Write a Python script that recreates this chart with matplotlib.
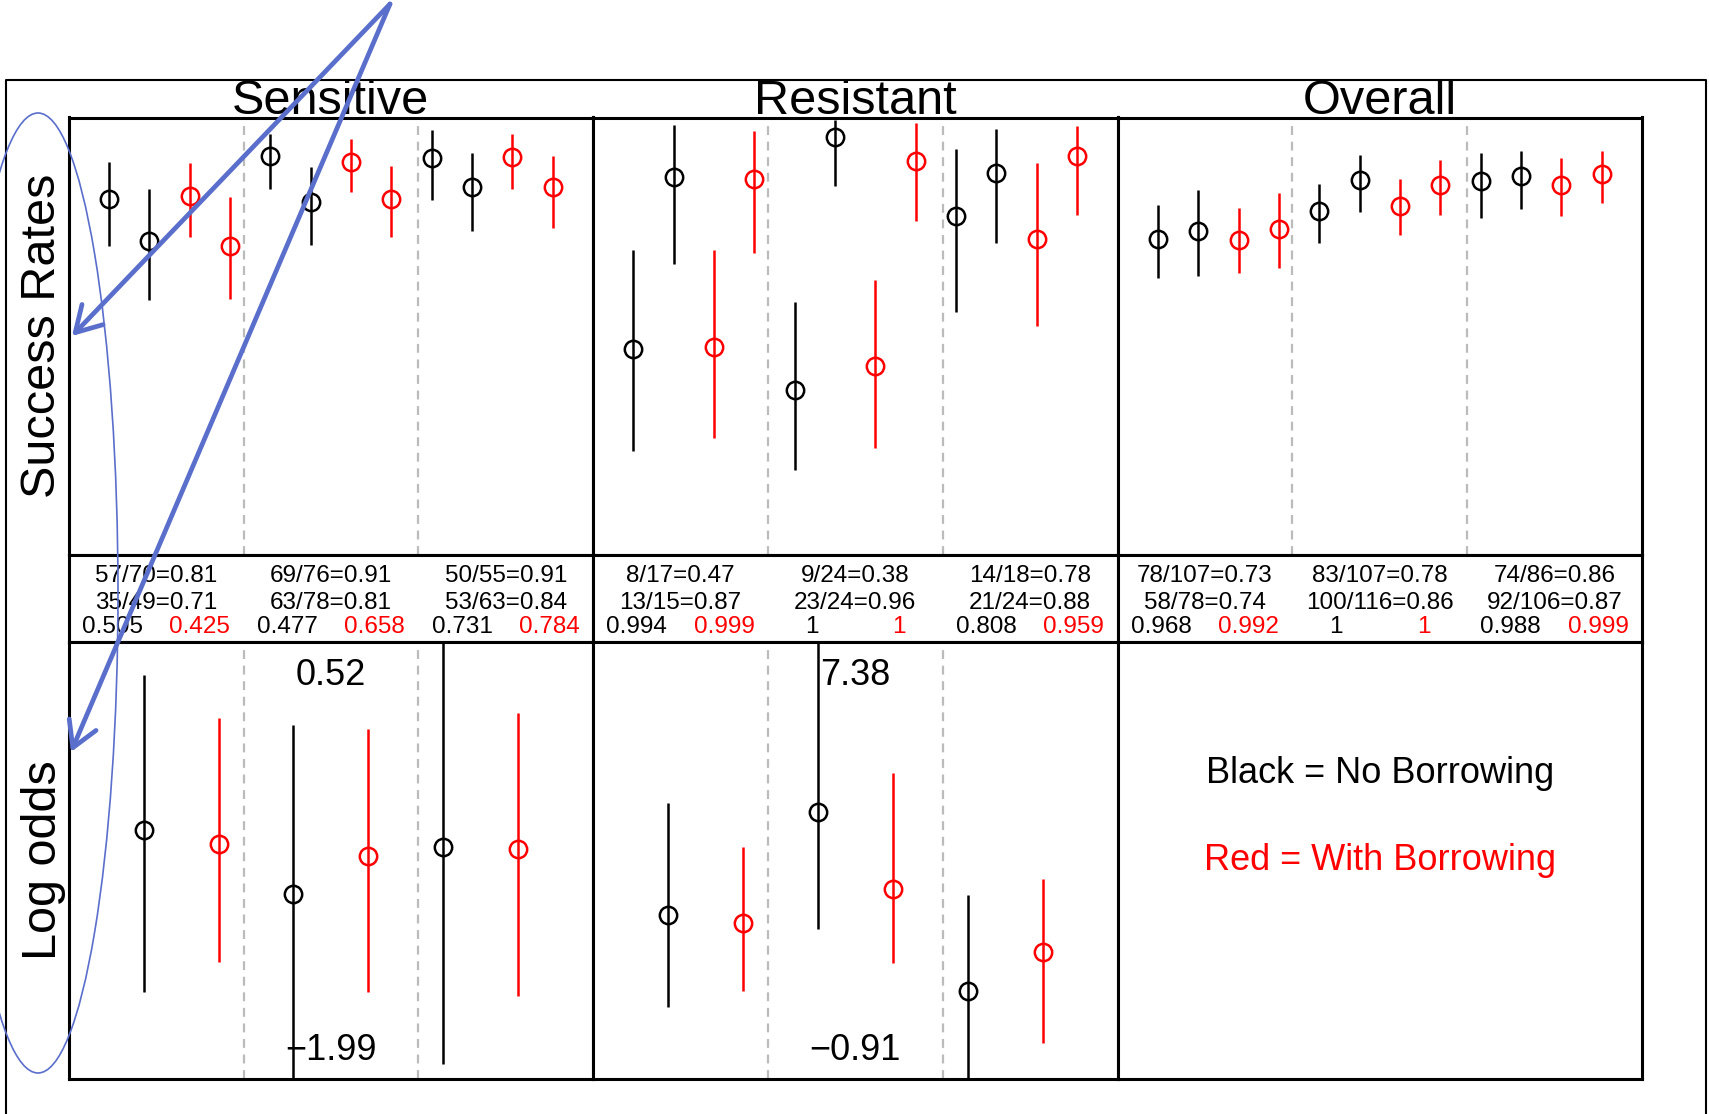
import matplotlib
matplotlib.use('Agg')
import matplotlib.pyplot as plt
from matplotlib.patches import Ellipse, FancyArrowPatch
from matplotlib.lines import Line2D

plt.rcParams['font.family'] = ['Liberation Sans', 'DejaVu Sans']

# ---- data ----
columns = ['Sensitive', 'Resistant', 'Overall']

# table counts: row 1 / row 2 of each block
succ_1 = {'Sensitive': [57, 69, 50], 'Resistant': [8, 9, 14], 'Overall': [78, 83, 74]}
total_1 = {'Sensitive': [70, 76, 55], 'Resistant': [17, 24, 18], 'Overall': [107, 107, 86]}
succ_2 = {'Sensitive': [35, 63, 53], 'Resistant': [13, 23, 21], 'Overall': [58, 100, 92]}
total_2 = {'Sensitive': [49, 78, 63], 'Resistant': [15, 24, 24], 'Overall': [78, 116, 106]}

# posterior probabilities printed in row 3
prob_black = {'Sensitive': [0.505, 0.477, 0.731], 'Resistant': [0.994, 1, 0.808], 'Overall': [0.968, 1, 0.988]}
prob_red = {'Sensitive': [0.425, 0.658, 0.784], 'Resistant': [0.999, 1, 0.959], 'Overall': [0.992, 1, 0.999]}

# success rates and intervals (order per block: arm 1, arm 2)
rate_black = {'Sensitive': [0.817, 0.720, 0.916, 0.811, 0.912, 0.845],
              'Resistant': [0.471, 0.868, 0.376, 0.961, 0.777, 0.877],
              'Overall': [0.724, 0.744, 0.788, 0.860, 0.858, 0.869]}
rate_black_lo = {'Sensitive': [0.709, 0.583, 0.839, 0.711, 0.814, 0.744],
                 'Resistant': [0.235, 0.667, 0.191, 0.846, 0.556, 0.716],
                 'Overall': [0.635, 0.640, 0.715, 0.787, 0.774, 0.794]}
rate_black_hi = {'Sensitive': [0.902, 0.840, 0.968, 0.891, 0.975, 0.924],
                 'Resistant': [0.698, 0.988, 0.580, 1.000, 0.933, 0.978],
                 'Overall': [0.804, 0.837, 0.852, 0.918, 0.924, 0.928]}
rate_red = {'Sensitive': [0.823, 0.709, 0.903, 0.818, 0.914, 0.844],
            'Resistant': [0.475, 0.864, 0.432, 0.904, 0.724, 0.916],
            'Overall': [0.723, 0.748, 0.801, 0.849, 0.849, 0.875]}
rate_red_lo = {'Sensitive': [0.730, 0.586, 0.832, 0.730, 0.839, 0.749],
               'Resistant': [0.264, 0.692, 0.243, 0.767, 0.523, 0.781],
               'Overall': [0.645, 0.657, 0.734, 0.780, 0.778, 0.808]}
rate_red_hi = {'Sensitive': [0.899, 0.822, 0.956, 0.893, 0.968, 0.917],
               'Resistant': [0.698, 0.973, 0.631, 0.993, 0.900, 0.985],
               'Overall': [0.796, 0.831, 0.862, 0.907, 0.912, 0.927]}

# log odds (no panel for Overall)
logodds_range = {'Sensitive': (-1.99, 0.52), 'Resistant': (-0.91, 7.38)}
lo_black = {'Sensitive': [-0.56, -0.93, -0.66], 'Resistant': [2.20, 4.15, 0.77]}
lo_black_lo = {'Sensitive': [-1.49, -2.30, -1.90], 'Resistant': [0.46, 1.93, -1.50]}
lo_black_hi = {'Sensitive': [0.33, 0.04, 0.80], 'Resistant': [4.32, 9.00, 2.58]}
lo_red = {'Sensitive': [-0.64, -0.71, -0.67], 'Resistant': [2.06, 2.70, 1.50]}
lo_red_lo = {'Sensitive': [-1.32, -1.49, -1.51], 'Resistant': [0.77, 1.29, -0.22]}
lo_red_hi = {'Sensitive': [0.085, 0.02, 0.11], 'Resistant': [3.50, 4.90, 2.88]}

# ---- layout ----
W, H = 1709, 1114
RED = '#ff0000'
BLUE = '#5a6ecb'
GREY = '#bbbbbb'
col_left = [68.7, 593.1, 1117.5]
col_w = 524.4
row_top, row_tab, row_bot, row_end = 117.5, 555.0, 641.7, 1079.3


def fx(px):
    return px / W


def fy(py):
    return 1 - py / H


def panel(fig, x0, y_top, y_bot):
    ax = fig.add_axes([fx(x0), fy(y_bot), col_w / W, (y_bot - y_top) / H])
    ax.set_xticks([])
    ax.set_yticks([])
    for sp in ax.spines.values():
        sp.set_linewidth(2.2)
    return ax


def draw_ci(ax, x, est, lo, hi, color):
    ax.vlines(x, lo, hi, color=color, lw=1.8, zorder=3)
    ax.plot(x, est, 'o', ms=12.5, mfc='none', mec=color, mew=1.8, zorder=4)


def dividers(ax, positions):
    for d in positions:
        ax.axvline(d, color=GREY, lw=1.6, ls=(0, (4, 3)), zorder=1)


fig = plt.figure(figsize=(W / 100, H / 100), dpi=100)

for c, name in enumerate(columns):
    x0 = col_left[c]
    fig.text(fx(x0 + col_w / 2), fy(114), name, fontsize=35, ha='center', va='baseline')

    # success rates
    ax = panel(fig, x0, row_top, row_tab)
    ax.set_xlim(0, 13)
    ax.set_ylim(-0.005, 1.005)
    dividers(ax, (13 / 3, 26 / 3))
    for b in range(3):
        blk = [b * 2, b * 2 + 1]
        xs = 4 * b + 1
        draw_ci(ax, [xs, xs + 1], [rate_black[name][i] for i in blk],
                [rate_black_lo[name][i] for i in blk], [rate_black_hi[name][i] for i in blk], 'black')
        draw_ci(ax, [xs + 2, xs + 3], [rate_red[name][i] for i in blk],
                [rate_red_lo[name][i] for i in blk], [rate_red_hi[name][i] for i in blk], RED)

    # table
    ax = panel(fig, x0, row_tab, row_bot)
    ax.set_xlim(0, 3)
    ax.set_ylim(0, 1)
    for b in range(3):
        s1, n1 = succ_1[name][b], total_1[name][b]
        s2, n2 = succ_2[name][b], total_2[name][b]
        ax.text(b + 0.5, 0.689, f'{s1}/{n1}={s1 / n1:.2f}', fontsize=17.5, ha='center', va='baseline')
        ax.text(b + 0.5, 0.381, f'{s2}/{n2}={s2 / n2:.2f}', fontsize=17.5, ha='center', va='baseline')
        ax.text(b + 0.25, 0.096, f'{prob_black[name][b]:g}', fontsize=17.5, ha='center', va='baseline')
        ax.text(b + 0.75, 0.096, f'{prob_red[name][b]:g}', fontsize=17.5, ha='center', va='baseline',
                color=RED)

    # log odds
    ax = panel(fig, x0, row_bot, row_end)
    ax.set_ylim(0, 1)
    if name in logodds_range:
        lo, hi = logodds_range[name]
        ax.set_xlim(0, 7)
        ax.set_ylim(lo, hi)
        dividers(ax, (7 / 3, 14 / 3))
        for b in range(3):
            draw_ci(ax, [2 * b + 1], [lo_black[name][b]], [lo_black_lo[name][b]], [lo_black_hi[name][b]], 'black')
            draw_ci(ax, [2 * b + 2], [lo_red[name][b]], [lo_red_lo[name][b]], [lo_red_hi[name][b]], RED)
        ax.text(0.5, 0.901, f'{hi:.2f}', transform=ax.transAxes, fontsize=26, ha='center', va='baseline')
        ax.text(0.5, 0.044, f'{lo:.2f}'.replace('-', '\u2212'), transform=ax.transAxes, fontsize=26,
                ha='center', va='baseline', zorder=2)
    else:
        ax.text(0.5, 0.676, 'Black = No Borrowing', transform=ax.transAxes, fontsize=26,
                ha='center', va='baseline')
        ax.text(0.5, 0.478, 'Red = With Borrowing', transform=ax.transAxes, fontsize=26,
                ha='center', va='baseline', color=RED)

fig.text(fx(43), fy((row_top + row_tab) / 2), 'Success Rates', fontsize=35, rotation=90,
         ha='center', va='center')
fig.text(fx(43), fy((row_bot + row_end) / 2), 'Log odds', fontsize=35, rotation=90,
         ha='center', va='center')

# outer frame (open at the bottom)
frame = [(5.5, 1200), (5.5, 79.5), (1706, 79.5), (1706, 1200)]
fig.add_artist(Line2D([fx(p[0]) for p in frame], [fy(p[1]) for p in frame],
                      transform=fig.transFigure, color='black', lw=1.5))

# hand-drawn annotation
fig.add_artist(Ellipse((fx(38), fy(593)), 160 / W, 960 / H, transform=fig.transFigure,
                       fill=False, ec=BLUE, lw=1.2, zorder=10))
for tip in [(72, 336), (71, 752)]:
    fig.add_artist(FancyArrowPatch((fx(390), fy(4)), (fx(tip[0]), fy(tip[1])),
                                   transform=fig.transFigure, arrowstyle='->,head_length=0.6,head_width=0.35',
                                   mutation_scale=30, lw=3.4, color=BLUE, shrinkA=0, shrinkB=0,
                                   zorder=11))

fig.savefig('out.png', dpi=100)
